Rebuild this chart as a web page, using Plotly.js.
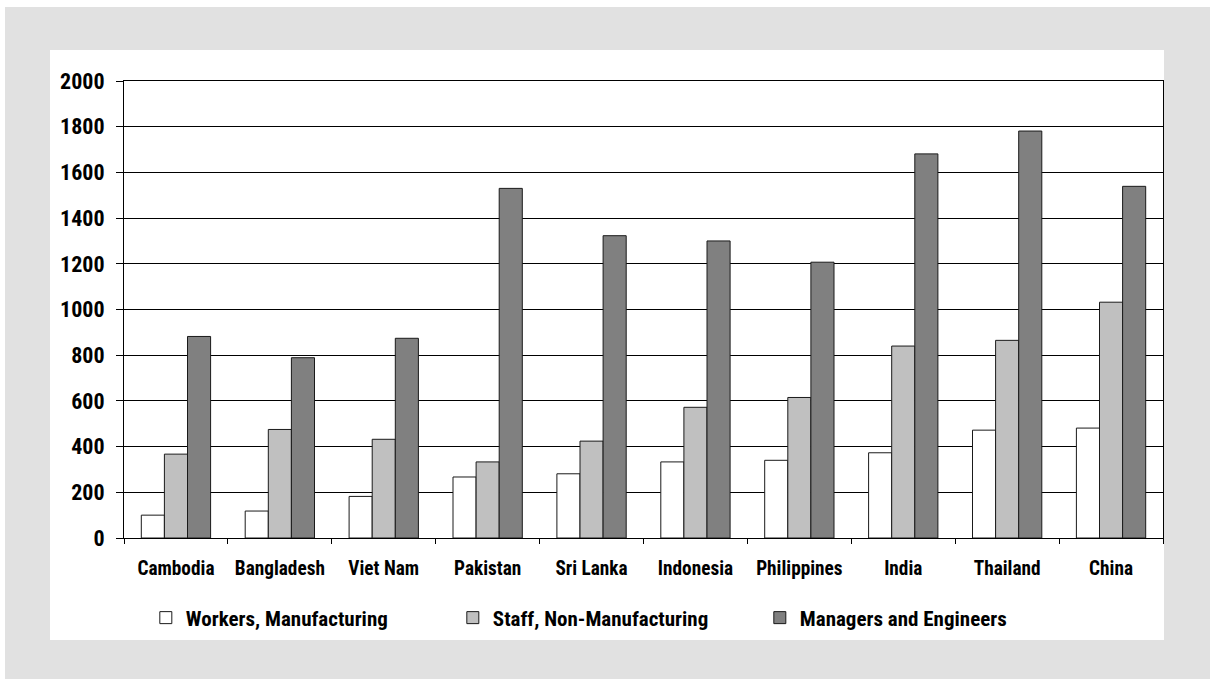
<!DOCTYPE html>
<html>
<head>
<meta charset="utf-8">
<script src="https://cdn.plot.ly/plotly-3.0.1.min.js"></script>
<style>
  html, body { margin: 0; padding: 0; background: #ffffff; }
  body { width: 1210px; height: 679px; position: relative; overflow: hidden; }
  #frame { position: absolute; left: 5px; top: 7px; width: 1205px; height: 672px; background: #e1e1e1; }
  #panel { position: absolute; left: 50px; top: 50px; width: 1114px; height: 590px; background: #ffffff; }
  #chart { position: absolute; left: 0; top: 0; width: 1210px; height: 679px; }
</style>
</head>
<body>
<div id="frame"></div>
<div id="panel"></div>
<div id="chart"></div>
<script>
// Monthly wage levels by country and occupation group
const countries = ["Cambodia", "Bangladesh", "Viet Nam", "Pakistan", "Sri Lanka",
                   "Indonesia", "Philippines", "India", "Thailand", "China"];
const workersManufacturing = [100, 118, 182, 267, 281, 333, 340, 373, 472, 481];
const staffNonManufacturing = [367, 475, 432, 333, 424, 572, 615, 840, 865, 1032];
const managersEngineers = [882, 789, 874, 1530, 1323, 1300, 1207, 1681, 1781, 1539];
const seriesNames = ["Workers, Manufacturing", "Staff, Non-Manufacturing", "Managers and Engineers"];
const yTicks = [0, 200, 400, 600, 800, 1000, 1200, 1400, 1600, 1800, 2000];

const FONT = "'Roboto Condensed', 'Open Sans Condensed', sans-serif";
const outline = { color: "#1a1a1a", width: 1 };

const traces = [
  { name: seriesNames[0], y: workersManufacturing, color: "#ffffff" },
  { name: seriesNames[1], y: staffNonManufacturing, color: "#c0c0c0" },
  { name: seriesNames[2], y: managersEngineers, color: "#808080" }
].map(s => ({
  type: "bar",
  name: s.name,
  x: countries,
  y: s.y,
  marker: { color: s.color, line: outline },
  hoverinfo: "x+y+name"
}));

const layout = {
  width: 1210,
  height: 679,
  paper_bgcolor: "rgba(0,0,0,0)",
  plot_bgcolor: "rgba(0,0,0,0)",
  margin: { l: 124, r: 47, t: 81, b: 141, pad: 0 },
  barmode: "group",
  bargap: 0.333,
  bargroupgap: 0,
  font: { family: FONT, color: "#000000", weight: "bold" },
  showlegend: true,
  legend: {
    orientation: "h",
    x: 0.021, xanchor: "left",
    y: -0.175, yanchor: "middle",
    entrywidth: 262, entrywidthmode: "pixels",
    font: { family: FONT, size: 21, color: "#000000", weight: "bold" },
    bgcolor: "rgba(0,0,0,0)",
    traceorder: "normal"
  },
  xaxis: {
    type: "category",
    showline: true, linecolor: "#000000", linewidth: 1, mirror: true,
    ticks: "outside", tickson: "boundaries", ticklen: 5, tickcolor: "#000000", tickwidth: 1,
    tickangle: 0,
    tickfont: { family: FONT, size: 19.3, color: "#000000", weight: "bold" },
    showgrid: false, zeroline: false,
    ticklabelstandoff: 13
  },
  yaxis: {
    range: [0, 2000],
    tickvals: yTicks,
    ticktext: yTicks.map(String),
    showline: true, linecolor: "#000000", linewidth: 1, mirror: true,
    ticks: "outside", ticklen: 7, tickcolor: "#000000", tickwidth: 1,
    tickfont: { family: FONT, size: 22, color: "#000000", weight: "bold" },
    showgrid: true, gridcolor: "#000000", gridwidth: 1,
    zeroline: false,
    ticklabelstandoff: 7
  }
};

Plotly.newPlot("chart", traces, layout, { displayModeBar: false, staticPlot: true });
</script>
</body>
</html>
